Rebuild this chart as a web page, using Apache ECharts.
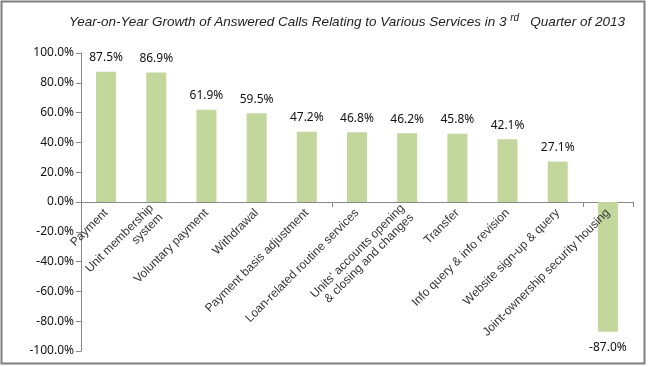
<!DOCTYPE html>
<html><head><meta charset="utf-8">
<script src="https://cdn.jsdelivr.net/npm/echarts@6/dist/echarts.min.js"></script>
<style>html,body{margin:0;padding:0;background:#fff}#c{width:650px;height:367px}</style>
</head><body><div id="c"></div>
<script>
const categories = ["Payment","Unit membership\nsystem","Voluntary payment","Withdrawal","Payment basis adjustment","Loan-related routine services","Units' accounts opening\n& closing and changes","Transfer","Info query & info revision","Website sign-up & query","Joint-ownership security housing"];
const growth = [87.5, 86.9, 61.9, 59.5, 47.2, 46.8, 46.2, 45.8, 42.1, 27.1, -87.0];
const yTicks = {min: -100, max: 100, interval: 20};

const gridTop = 53, gridBottom = 16, H = 367;
const zeroOffset = -((H - gridTop - gridBottom) / 2);

const chart = echarts.init(document.getElementById('c'), null, {renderer: 'canvas'});
chart.setOption({
  animation: false,
  graphic: [{type: 'rect', shape: {x: 1.5, y: 1.5, width: 643, height: 362}, style: {fill: 'none', stroke: '#7f7f7f', lineWidth: 2}}],
  title: {
    text: 'Year-on-Year Growth of Answered Calls Relating to Various Services in 3 {s|rd}   Quarter of 2013',
    left: 64, top: 8,
    textStyle: {fontFamily: 'Liberation Sans', fontStyle: 'italic', fontWeight: 'normal', fontSize: 13.5, color: '#222',
      rich: {s: {fontFamily: 'Liberation Sans', fontStyle: 'italic', fontSize: 10, color: '#222', verticalAlign: 'top', padding: [0,0,8,0]}}}
  },
  grid: {left: 81, right: 17, top: gridTop, bottom: gridBottom, containLabel: false,
    outerBoundsMode: 'auto', outerBounds: {left: -300, right: -300, top: -300, bottom: -300}},
  xAxis: [{
    type: 'category', data: categories,
    axisLine: {onZero: true, lineStyle: {color: '#888', width: 1}},
    axisTick: {show: true, length: 5, lineStyle: {color: '#888'}},
    axisLabel: {show: false}
  }, {
    type: 'category', data: categories, position: 'bottom', offset: zeroOffset, z: 10,
    axisLine: {show: false, onZero: false},
    axisTick: {show: false},
    axisLabel: {rotate: 45, interval: 0, margin: 9, fontFamily: 'Liberation Sans', fontSize: 12, color: '#333', lineHeight: 13}
  }],
  yAxis: {
    type: 'value', min: yTicks.min, max: yTicks.max, interval: yTicks.interval,
    splitLine: {show: false},
    axisLine: {show: true, lineStyle: {color: '#888'}},
    axisTick: {show: true, length: 5, lineStyle: {color: '#888'}},
    axisLabel: {formatter: v => v.toFixed(1) + '%', fontFamily: 'Noto Sans', fontSize: 12, color: '#111', margin: 7}
  },
  series: [{
    type: 'bar', barWidth: 20, xAxisIndex: 0,
    data: growth.map(v => v < 0 ? {value: v, label: {position: 'bottom', distance: 10}} : v),
    itemStyle: {color: '#c3d69b'},
    label: {show: true, position: 'top', distance: 8, formatter: p => p.value.toFixed(1) + '%', fontFamily: 'Noto Sans', fontSize: 12, color: '#111'}
  }]
});
</script></body></html>
